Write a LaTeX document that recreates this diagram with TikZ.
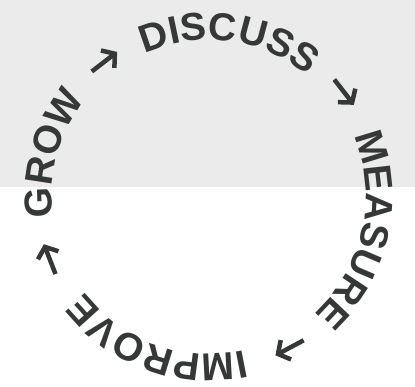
\documentclass[tikz,border=0pt]{standalone}
\usepackage{fontspec}
\setmainfont{Liberation Sans}
\usetikzlibrary{arrows.meta,calc,decorations.text}
\definecolor{ink}{HTML}{343937}
\definecolor{paper}{HTML}{EBEBEB}
\newcommand{\ringfont}{\fontsize{39}{39}\selectfont\bfseries\color{ink}}

\begin{document}
\begin{tikzpicture}[x=1pt, y=1pt,
    ringword/.style={decorate, decoration={text along path, text align=center, text={|\ringfont|#1}}},
    ringarrow/.style={draw=ink, line width=4.5pt, -{Straight Barb[length=9pt, width=22pt]}}
]
\useasboundingbox (0,0) rectangle (415,-387);
\fill[paper] (0,0) rectangle (415,-187);
\coordinate (c) at (209,-197);
% words, read clockwise round the ring
\path[ringword=DISCUSS] ($(c)+(142.5:157)$) arc[start angle=142.5, end angle=22.5, radius=157];
\path[ringword=MEASURE] ($(c)+(47.5:157)$) arc[start angle=47.5, end angle=-72.5, radius=157];
\path[ringword=IMPROVE] ($(c)+(-49.8:157)$) arc[start angle=-49.8, end angle=-169.8, radius=157];
\path[ringword=GROW] ($(c)+(224.5:157)$) arc[start angle=224.5, end angle=104.5, radius=157];
% arrows between the words
\coordinate (a1t) at ($(c)+(127.7:171)+(217.7:16)$);
\coordinate (a1h) at ($(c)+(127.7:171)+(37.7:16)$);
\coordinate (a2t) at ($(c)+(37.8:171)+(127.8:16)$);
\coordinate (a2h) at ($(c)+(37.8:171)+(-52.2:16)$);
\coordinate (a3t) at ($(c)+(-61.9:171)+(28.1:16)$);
\coordinate (a3h) at ($(c)+(-61.9:171)+(-151.9:16)$);
\coordinate (a4t) at ($(c)+(-158.7:171)+(-68.7:16)$);
\coordinate (a4h) at ($(c)+(-158.7:171)+(-248.7:16)$);
\draw[ringarrow] (a1t) -- (a1h);
\draw[ringarrow] (a2t) -- (a2h);
\draw[ringarrow] (a3t) -- (a3h);
\draw[ringarrow] (a4t) -- (a4h);
\end{tikzpicture}
\end{document}
